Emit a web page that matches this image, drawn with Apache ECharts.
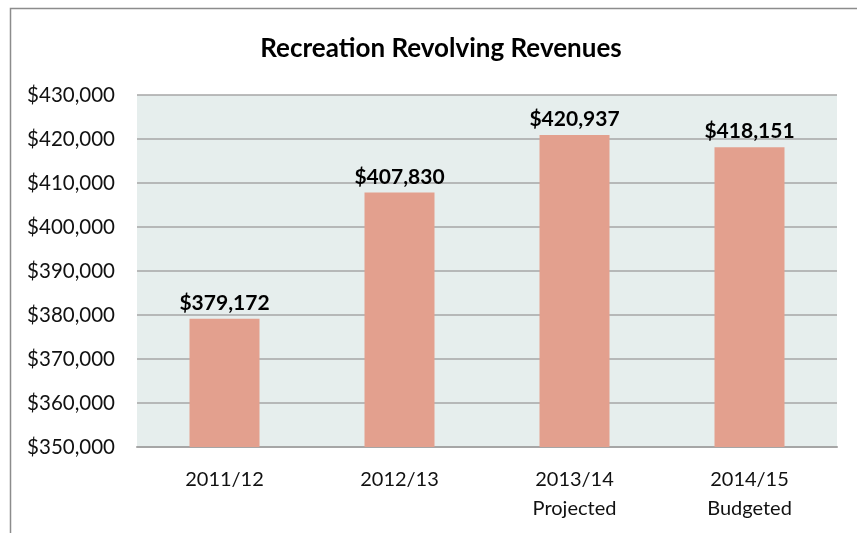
<!DOCTYPE html>
<html><head><meta charset="utf-8">
<script src="https://cdn.jsdelivr.net/npm/echarts@6/dist/echarts.min.js"></script>
<style>html,body{margin:0;padding:0;background:#fff}#c{width:857px;height:533px}</style>
</head><body><div id="c"></div>
<script>
const categories = ['2011/12', '2012/13', '2013/14\nProjected', '2014/15\nBudgeted'];
const revenues = [379172, 407830, 420937, 418151];
const yMin = 350000, yMax = 430000, yStep = 10000;
const titleText = 'Recreation Revolving Revenues';

const fmt = v => '$' + v.toLocaleString('en-US');
const FONT = 'Lato';
const chart = echarts.init(document.getElementById('c'), null, {renderer: 'canvas'});
chart.setOption({
  backgroundColor: '#fff',
  animation: false,
  graphic: [{
    type: 'rect', shape: {x: 10.5, y: 8.5, width: 900, height: 600},
    style: {fill: 'none', stroke: '#8c8c8c', lineWidth: 1.5}, z: -1
  }],
  title: {
    text: titleText, left: 436, top: 31, textAlign: 'center',
    textStyle: {fontFamily: FONT, fontWeight: 'bold', fontSize: 26, color: '#000'}
  },
  grid: {left: 137, right: 20, top: 95, bottom: 86, show: true, backgroundColor: '#e6eeed', borderWidth: 0},
  xAxis: {
    type: 'category', data: categories,
    axisLine: {show: true, lineStyle: {color: '#a6a6a6', width: 2}},
    axisTick: {show: false},
    axisLabel: {fontFamily: FONT, fontSize: 20, color: '#111', margin: 18, lineHeight: 29}
  },
  yAxis: {
    type: 'value', min: yMin, max: yMax, interval: yStep,
    axisLine: {show: false}, axisTick: {show: false},
    splitLine: {lineStyle: {color: '#a6a6a6', width: 1.5}},
    axisLabel: {fontFamily: FONT, fontSize: 20.5, color: '#111', margin: 22, formatter: fmt}
  },
  series: [{
    type: 'bar', data: revenues, barWidth: '40%',
    itemStyle: {color: '#e3a08e'},
    label: {show: true, position: 'top', distance: 5, formatter: p => fmt(p.value),
      fontFamily: FONT, fontWeight: 'bold', fontSize: 21, color: '#000'}
  }]
});
</script></body></html>
